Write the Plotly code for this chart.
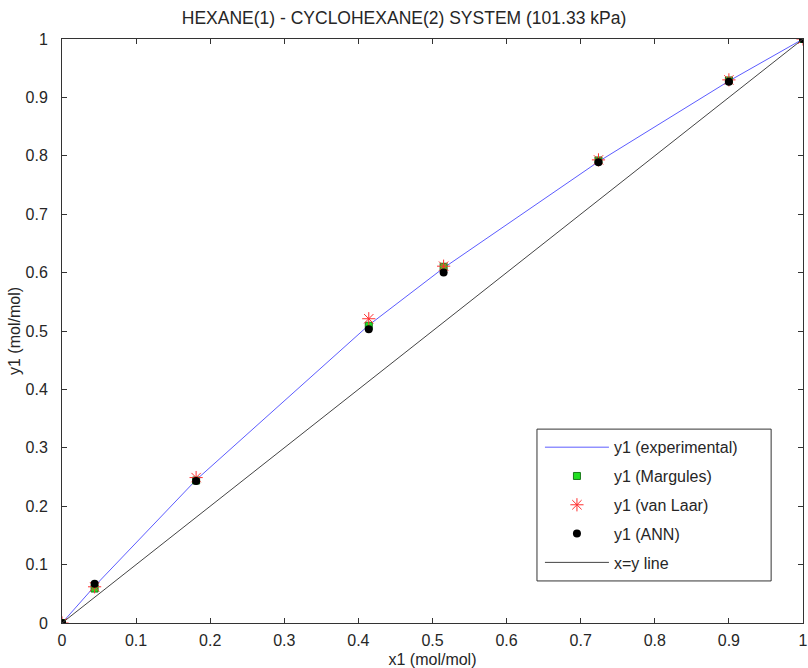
import plotly.graph_objects as go

# Liquid mole fraction of hexane and vapour mole fractions
x1 = [0.0, 0.044, 0.181, 0.414, 0.515, 0.724, 0.900, 1.0]
y1_exp = [0.0, 0.063, 0.245, 0.510, 0.608, 0.790, 0.928, 1.0]
y1_margules = [0.0, 0.059, 0.244, 0.509, 0.610, 0.792, 0.929, 1.0]
y1_vanlaar = [0.0, 0.062, 0.249, 0.521, 0.611, 0.793, 0.930, 1.0]
y1_ann = [0.0, 0.067, 0.243, 0.503, 0.600, 0.789, 0.927, 1.0]
diag = [0.0, 1.0]

ticks = [0, 0.1, 0.2, 0.3, 0.4, 0.5, 0.6, 0.7, 0.8, 0.9, 1]
tick_text = ["0", "0.1", "0.2", "0.3", "0.4", "0.5", "0.6", "0.7", "0.8", "0.9", "1"]

FONT = "Liberation Sans, Arial, sans-serif"
TXT = "#262626"

fig = go.Figure()
fig.add_trace(go.Scatter(x=x1, y=y1_exp, mode="lines", name="y1 (experimental)",
                         line=dict(color="#5c5cff", width=1), legendgroup="a"))
fig.add_trace(go.Scatter(x=x1, y=y1_margules, mode="markers", name="y1 (Margules)",
                         marker=dict(symbol="square", size=7, color="#22e022",
                                     line=dict(color="#1a7a1a", width=1)), legendgroup="b"))
fig.add_trace(go.Scatter(x=x1, y=y1_vanlaar, mode="markers", name="y1 (van Laar)",
                         marker=dict(symbol="asterisk-open", size=11, color="#ff3030",
                                     line=dict(color="#ff3030", width=1)), legendgroup="c"))
fig.add_trace(go.Scatter(x=x1, y=y1_ann, mode="markers", name="y1 (ANN)",
                         marker=dict(symbol="circle", size=8, color="black"), legendgroup="d"))
fig.add_trace(go.Scatter(x=diag, y=diag, mode="lines", name="x=y line",
                         line=dict(color="#444444", width=1), legendgroup="e"))

axis_common = dict(
    range=[0, 1], tickvals=ticks, ticktext=tick_text, ticks="inside", ticklen=5,
    tickcolor="#333333", showline=True, linecolor="#333333", linewidth=1,
    mirror="ticks", showgrid=False, zeroline=False,
    tickfont=dict(family=FONT, size=16, color=TXT),
)

fig.update_layout(
    width=808, height=668,
    margin=dict(l=62, r=5, t=39, b=45, autoexpand=False),
    paper_bgcolor="white", plot_bgcolor="white",
    title=dict(text="HEXANE(1) - CYCLOHEXANE(2) SYSTEM (101.33 kPa)",
               x=0.5, xanchor="center", y=0.973, yanchor="middle",
               font=dict(family=FONT, size=17.5, color=TXT)),
    xaxis=dict(**axis_common, ticklabelstandoff=3, automargin=False,
               title=dict(text="x1 (mol/mol)",
                          font=dict(family=FONT, size=16, color=TXT))),
    yaxis=dict(**axis_common, ticklabelstandoff=10, automargin=True,
               title=dict(text="y1 (mol/mol)", standoff=0,
                          font=dict(family=FONT, size=16, color=TXT))),
    legend=dict(x=0.645, y=0.330, xanchor="left", yanchor="top",
                bgcolor="rgba(0,0,0,0)", borderwidth=0,
                font=dict(family=FONT, size=16, color=TXT),
                tracegroupgap=5, itemwidth=64),
    # legend frame
    shapes=[dict(type="rect", xref="paper", yref="paper",
                 x0=0.641, x1=0.957, y0=0.072, y1=0.332,
                 line=dict(color="#333333", width=1), fillcolor="white",
                 layer="below")],
    showlegend=True,
)

fig.write_html("out.html")
